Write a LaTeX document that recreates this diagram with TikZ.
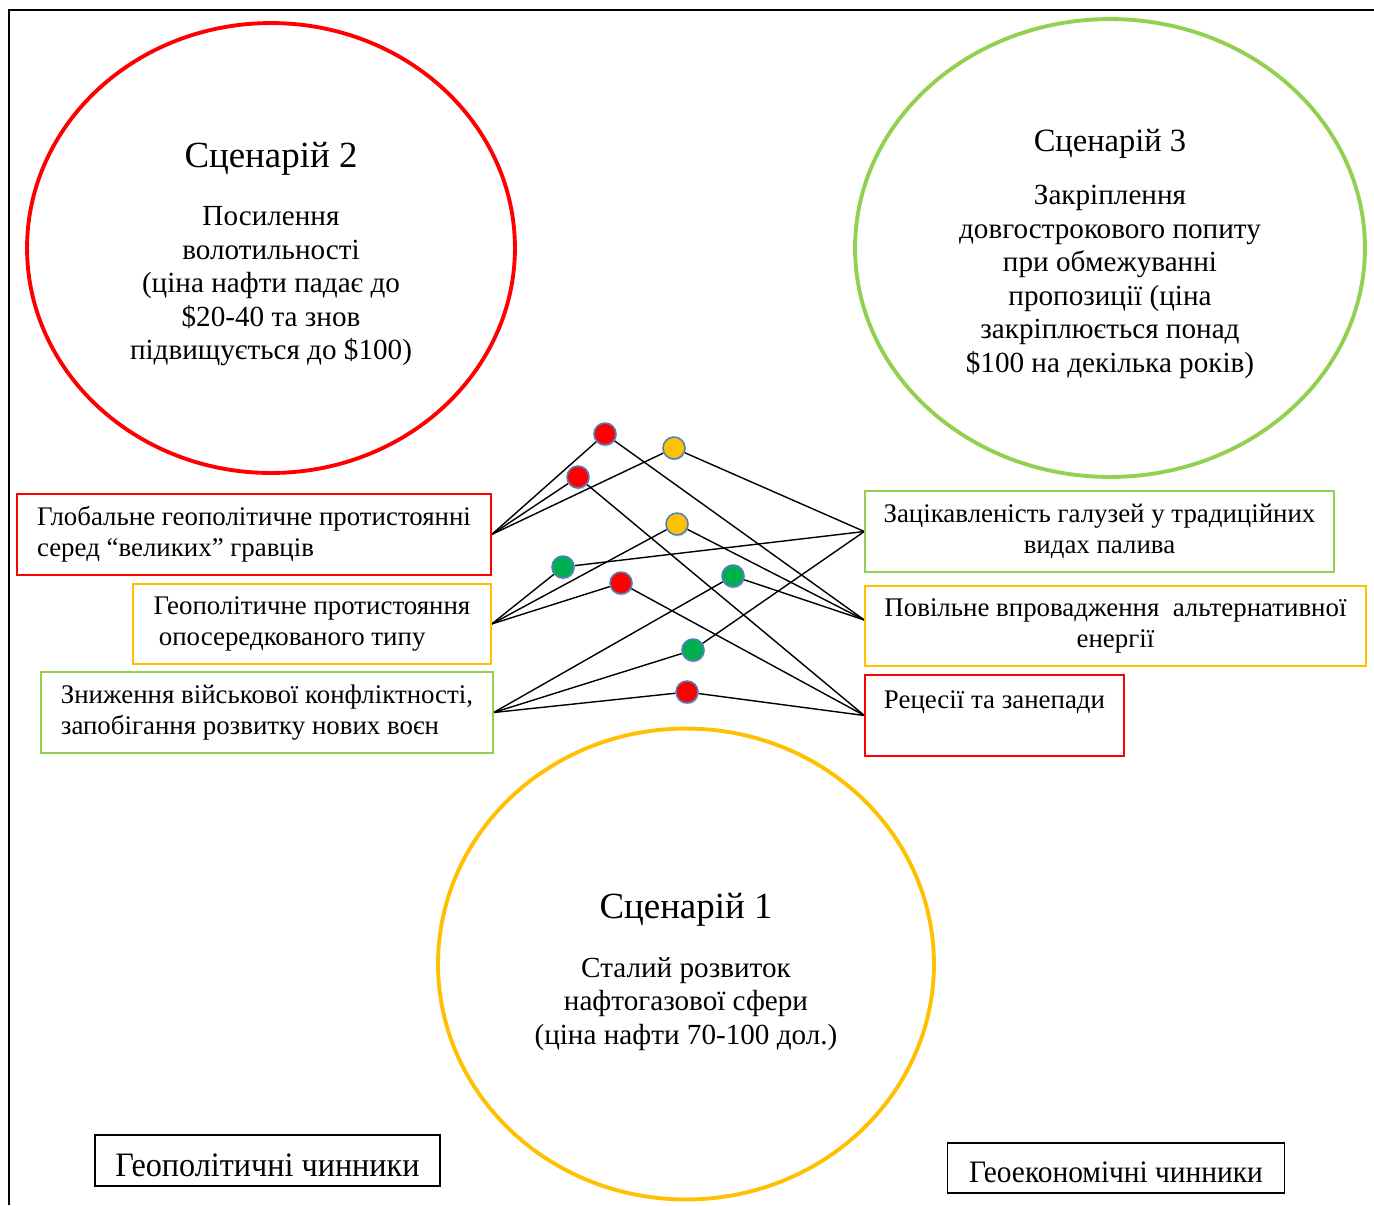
\documentclass[tikz,border=0pt]{standalone}
\usepackage{fontspec}
\setmainfont{Liberation Serif}
\usetikzlibrary{shapes.geometric, shadows, backgrounds}
\definecolor{sred}{HTML}{FF0000}
\definecolor{syellow}{HTML}{FFC000}
\definecolor{sgreen}{HTML}{92D050}
\definecolor{dgreen}{HTML}{00B050}
\definecolor{dblue}{HTML}{4F81BD}

\begin{document}
\begin{tikzpicture}[x=0.02cm, y=-0.02cm,
    scenario/.style={draw, ellipse, line width=2.2pt, align=center, inner sep=0pt, font=\fontsize{16.6}{19.1}\selectfont},
    factor/.style={draw, rectangle, line width=0.8pt, inner sep=4pt, font=\fontsize{15.3}{17.6}\selectfont},
    label/.style={draw, rectangle, line width=0.8pt, minimum height=1cm},
    dot/.style={circle, draw=dblue, line width=0.9pt, minimum size=0.44cm, inner sep=0pt,
        drop shadow={opacity=0.25, shadow xshift=0.5pt, shadow yshift=-0.9pt}},
    link/.style={line width=0.8pt}]
    \useasboundingbox (0,0) rectangle (1374,1205);
    \draw[line width=1.1pt] (9,1205) -- (9,10) -- (1374,10);

    % scenarios
    \node[scenario, draw=sred, minimum width=9.76cm, minimum height=9cm] (S2) at (271,248)
        {{\fontsize{21}{25}\selectfont\rule{0pt}{21.5pt}Сценарій 2}\\[14pt]
         Посилення\\ волотильності\\ (ціна нафти падає до\\ \$20-40 та знов\\ підвищується до \$100)};
    \node[scenario, draw=sgreen, minimum width=10.2cm, minimum height=9.16cm] (S3) at (1110,248)
        {{\fontsize{18.5}{22}\selectfont\rule{0pt}{19.5pt}Сценарій 3}\\[11pt]
         Закріплення\\ довгострокового попиту\\ при обмежуванні\\ пропозиції (ціна\\ закріплюється понад\\ \$100 на декілька років)};
    \node[scenario, draw=syellow, minimum width=9.92cm, minimum height=9.42cm] (S1) at (686,964)
        {{\fontsize{21}{25}\selectfont\rule{0pt}{23.5pt}Сценарій 1}\\[14pt]
         Сталий розвиток\\ нафтогазової сфери\\ (ціна нафти 70-100 дол.)};

    % geopolitical factors
    \node[factor, draw=sred, minimum width=9.48cm, minimum height=1.62cm, align=left] (G1) at (254,534.5)
        {Глобальне геополітичне протистоянні\\ серед “великих” гравців};
    \node[factor, draw=syellow, minimum width=7.16cm, minimum height=1.6cm, align=left] (G2) at (312,624)
        {Геополітичне протистояння\\ \hspace{3pt}опосередкованого типу};
    \node[factor, draw=sgreen, minimum width=9.04cm, minimum height=1.62cm, align=left] (G3) at (267,712.5)
        {Зниження військової конфліктності,\\ запобігання розвитку нових воєн};

    % geoeconomic factors
    \node[factor, draw=sgreen, minimum width=9.38cm, minimum height=1.62cm, align=center] (E1) at (1099.5,531.5)
        {Зацікавленість галузей у традиційних\\ видах палива};
    \node[factor, draw=syellow, minimum width=10.02cm, minimum height=1.6cm, align=center] (E2) at (1115.5,626)
        {Повільне впровадження \ альтернативної\\ енергії};
    \node[factor, draw=sred, minimum width=5.18cm, minimum height=1.62cm, align=left] (E3) at (994.5,715.5)
        {Рецесії та занепади\\ \mbox{}};
    \coordinate (e2) at ([yshift=0.12cm]E2.west);

    % captions
    \node[label, minimum width=6.9cm, minimum height=1.02cm, font=\fontsize{19.5}{22}\selectfont] (GL) at (267.5,1160.5)
        {\rule{0pt}{17.9pt}\scalebox{0.94}[1]{Геополітичні чинники}};
    \node[label, minimum width=6.74cm, minimum height=1cm, font=\fontsize{17.8}{21}\selectfont] (EL) at (1116,1168)
        {\rule{0pt}{17.2pt}\scalebox{0.94}[1]{Геоекономічні чинники}};

    % dots
    \node[dot, fill=sred] (r1) at (605,434) {};
    \node[dot, fill=syellow] (y1) at (674,448) {};
    \node[dot, fill=sred] (r2) at (578,477) {};
    \node[dot, fill=syellow] (y2) at (677,524) {};
    \node[dot, fill=dgreen] (g1) at (563,567) {};
    \node[dot, fill=sred] (r3) at (621,583) {};
    \node[dot, fill=dgreen] (g2) at (733,576) {};
    \node[dot, fill=dgreen] (g3) at (693,650) {};
    \node[dot, fill=sred] (r4) at (687,692) {};

    % links
    \begin{scope}[on background layer]
    \draw[link] (G1.east) -- (r1) -- (e2);
    \draw[link] (G1.east) -- (r2) -- (E3.west);
    \draw[link] (G1.east) -- (y1) -- (E1.west);
    \draw[link] (G2.east) -- (y2) -- (e2);
    \draw[link] (G2.east) -- (g1) -- (E1.west);
    \draw[link] (G2.east) -- (r3) -- (E3.west);
    \draw[link] (G3.east) -- (g2) -- (e2);
    \draw[link] (G3.east) -- (g3) -- (E1.west);
    \draw[link] (G3.east) -- (r4) -- (E3.west);
    \end{scope}
\end{tikzpicture}
\end{document}
